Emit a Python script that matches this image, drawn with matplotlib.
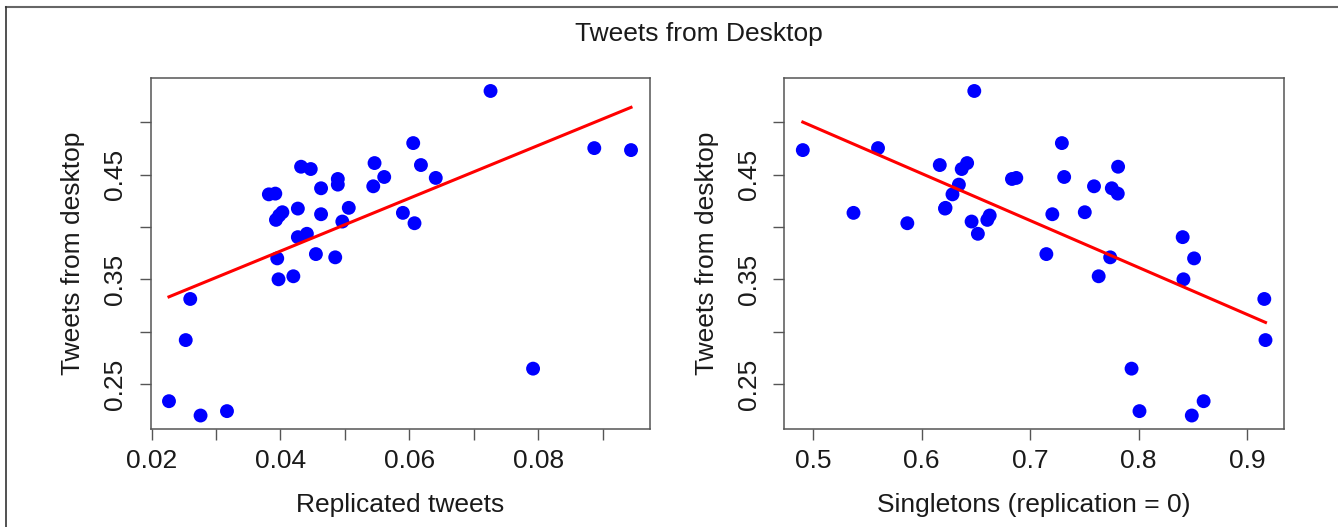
import numpy as np
import matplotlib
matplotlib.use("Agg")
import matplotlib.pyplot as plt
from matplotlib.lines import Line2D

plt.rcParams["font.family"] = ["Liberation Sans", "DejaVu Sans"]

# Share of tweets sent from desktop, one value per account group
desktop = [0.530, 0.4754, 0.4735, 0.4802, 0.4592, 0.4469, 0.4611, 0.4478,
           0.4389, 0.4576, 0.4554, 0.4459, 0.4405, 0.4370, 0.4312, 0.4319,
           0.4176, 0.4183, 0.4122, 0.4141, 0.4110, 0.4068, 0.4052, 0.4135,
           0.4036, 0.3903, 0.3935, 0.3700, 0.3741, 0.3710, 0.3500, 0.3529,
           0.3312, 0.2919, 0.2335, 0.2198, 0.2240, 0.2646]

replicated = [0.0726, 0.0887, 0.0944, 0.0606, 0.0618, 0.0641, 0.0546, 0.0561,
              0.0544, 0.0432, 0.0447, 0.0489, 0.0489, 0.0463, 0.0382, 0.0392,
              0.0427, 0.0506, 0.0463, 0.0403, 0.0398, 0.0393, 0.0496, 0.0590,
              0.0608, 0.0427, 0.0441, 0.0395, 0.0455, 0.0485, 0.0397, 0.0420,
              0.0260, 0.0253, 0.0227, 0.0276, 0.0317, 0.0792]

singletons = [0.6485, 0.5598, 0.4905, 0.7292, 0.6167, 0.6872, 0.6419, 0.7313,
              0.7588, 0.7810, 0.6369, 0.6832, 0.6343, 0.7752, 0.6284, 0.7807,
              0.6215, 0.6220, 0.7204, 0.7503, 0.6627, 0.6605, 0.6460, 0.5372,
              0.5868, 0.8405, 0.6518, 0.8510, 0.7149, 0.7737, 0.8412, 0.7631,
              0.9157, 0.9168, 0.8598, 0.8489, 0.8007, 0.7934]

left_xticks = [0.02, 0.03, 0.04, 0.05, 0.06, 0.07, 0.08, 0.09]
left_xlabels = ["0.02", "", "0.04", "", "0.06", "", "0.08", ""]
right_xticks = [0.5, 0.6, 0.7, 0.8, 0.9]
right_xlabels = ["0.5", "0.6", "0.7", "0.8", "0.9"]
yticks = [0.25, 0.30, 0.35, 0.40, 0.45, 0.50]
ylabels = ["0.25", "", "0.35", "", "0.45", ""]

W, H = 1338, 527
FS = 19
BOX = "#555555"
INK = "#1a1a1a"


def r_limits(v):
    # base R style range: data span padded by 4% on each side
    lo, hi = min(v), max(v)
    pad = 0.04 * (hi - lo)
    return lo - pad, hi + pad


def panel(ax, x, y, xticks, xlabels, xlabel):
    ax.scatter(x, y, s=100, color="#0000ff", edgecolors="none", zorder=3)

    slope, intercept = np.polyfit(x, y, 1)
    xs = np.array([min(x), max(x)])
    ax.plot(xs, intercept + slope * xs, color="#ff0000", lw=2.2, zorder=4)

    ax.set_xlim(*r_limits(x))
    ax.set_ylim(*r_limits(y))
    ax.set_xticks(xticks)
    ax.set_xticklabels(xlabels)
    ax.set_yticks(yticks)
    ax.set_yticklabels(ylabels, rotation=90, va="center")

    ax.tick_params(axis="both", length=8, width=1.0, color=BOX,
                   labelsize=FS, labelcolor=INK)
    ax.tick_params(axis="x", pad=7)
    ax.tick_params(axis="y", pad=9)
    for sp in ax.spines.values():
        sp.set_color(BOX)
        sp.set_linewidth(1.1)

    ax.set_xlabel(xlabel, fontsize=FS, color=INK)
    ax.xaxis.set_label_coords(0.5, -0.218)
    ax.xaxis.label.set_va("center")
    ax.set_ylabel("Tweets from desktop", fontsize=FS, color=INK)
    ax.yaxis.set_label_coords(-0.155, 0.5)
    ax.yaxis.label.set_va("center")


fig = plt.figure(figsize=(W / 100, H / 100), dpi=100)

ax1 = fig.add_axes([150.5 / W, 1 - 428.5 / H, 499 / W, 350.5 / H])
ax2 = fig.add_axes([784.3 / W, 1 - 428.5 / H, 499.7 / W, 350.5 / H])

panel(ax1, replicated, desktop, left_xticks, left_xlabels, "Replicated tweets")
panel(ax2, singletons, desktop, right_xticks, right_xlabels,
      "Singletons (replication = 0)")

fig.text(699 / W, 1 - 34 / H, "Tweets from Desktop", fontsize=FS,
         ha="center", va="center", color=INK)

# outer frame: top rule and left rule
fig.add_artist(Line2D([6 / W, 1], [1 - 7 / H, 1 - 7 / H],
                      transform=fig.transFigure, color="#666666", lw=1.5))
fig.add_artist(Line2D([6 / W, 6 / W], [0, 1 - 7 / H],
                      transform=fig.transFigure, color="#333333", lw=1.2))

fig.savefig("out.png", dpi=100)
